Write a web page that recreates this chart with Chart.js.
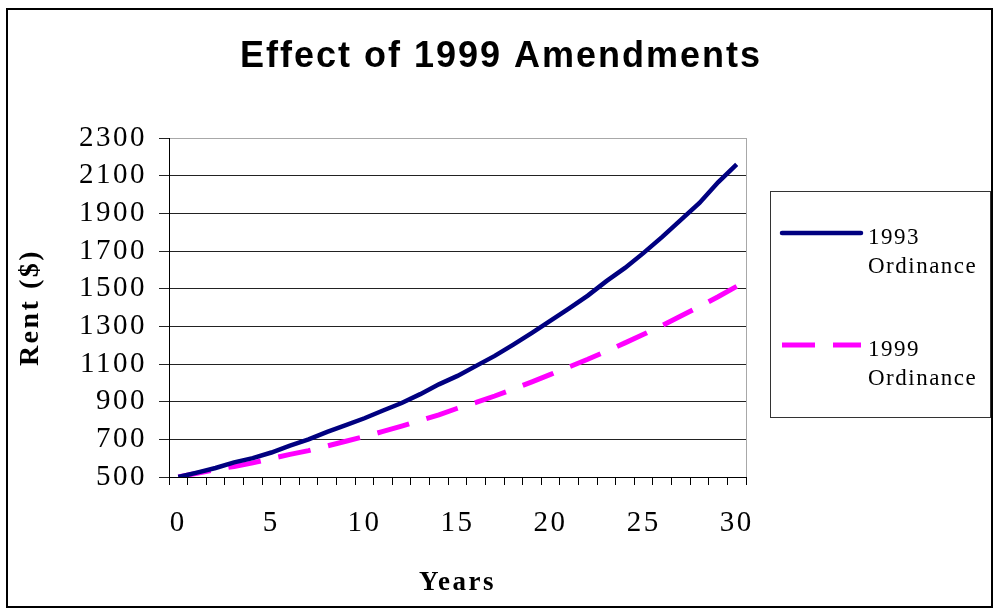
<!DOCTYPE html>
<html>
<head>
<meta charset="utf-8">
<script src="https://cdn.jsdelivr.net/npm/chart.js@4.4.1/dist/chart.umd.min.js"></script>
<style>
    html, body { margin: 0; padding: 0; background: #fff; }
    #wrap { width: 995px; height: 613px; }
</style>
</head>
<body>
<div id="wrap"><canvas id="chart"></canvas></div>
<script>
// data
const years = [0, 1, 2, 3, 4, 5, 6, 7, 8, 9, 10, 11, 12, 13, 14, 15, 16, 17, 18, 19, 20, 21, 22, 23, 24, 25, 26, 27, 28, 29, 30];
const rent1993 = [500, 523, 548, 578, 600, 630, 667, 700, 740, 775, 812, 853, 893, 940, 992, 1037, 1090, 1143, 1203, 1265, 1330, 1395, 1463, 1540, 1610, 1690, 1775, 1865, 1955, 2065, 2160];
const rent1999 = [500, 520, 540, 556, 575, 598, 620, 640, 665, 690, 715, 742, 770, 800, 830, 865, 896, 930, 967, 1005, 1045, 1085, 1125, 1168, 1212, 1258, 1305, 1355, 1405, 1457, 1512];
const yTicks = [500, 700, 900, 1100, 1300, 1500, 1700, 1900, 2100, 2300];
const xLabelEvery = 5;

const seriesNames = [['1993', 'Ordinance'], ['1999', 'Ordinance']];
const titleText = 'Effect of 1999 Amendments';

const serif = '"Liberation Serif", "Times New Roman", serif';
const sans = '"Liberation Sans", Arial, sans-serif';

// frame, title and legend //
const decor = {
    id: 'decor',
    beforeDraw(chart) {
        const ctx = chart.ctx;
        ctx.save();
        ctx.fillStyle = '#fff';
        ctx.fillRect(0, 0, chart.width, chart.height);
        ctx.restore();
        ctx.letterSpacing = '2.5px';
    },
    beforeDatasetsDraw(chart) {
        const { ctx, chartArea: a } = chart;
        ctx.save();
        ctx.strokeStyle = '#a8a8a8';
        ctx.lineWidth = 1;
        ctx.beginPath();
        ctx.moveTo(Math.round(a.right) + 0.5, a.top);
        ctx.lineTo(Math.round(a.right) + 0.5, a.bottom);
        ctx.stroke();
        ctx.restore();
    },
    afterDraw(chart) {
        const ctx = chart.ctx;
        ctx.save();

        // outer frame
        ctx.strokeStyle = '#000';
        ctx.lineWidth = 2;
        ctx.strokeRect(7, 9, 985, 598);

        // title
        ctx.fillStyle = '#000';
        ctx.font = 'bold 36px ' + sans;
        ctx.letterSpacing = '2px';
        ctx.textAlign = 'center';
        ctx.textBaseline = 'alphabetic';
        ctx.fillText(titleText, 501, 67);

        // legend box
        ctx.strokeStyle = '#333';
        ctx.lineWidth = 1;
        ctx.strokeRect(770.5, 191.5, 220, 226);

        const rows = [233, 345];
        ctx.font = '23px ' + serif;
        ctx.letterSpacing = '1.5px';
        ctx.textAlign = 'left';
        chart.data.datasets.forEach((ds, i) => {
            const y = rows[i];
            ctx.save();
            ctx.strokeStyle = ds.borderColor;
            ctx.lineWidth = ds.borderWidth;
            ctx.lineCap = i === 0 ? 'round' : 'butt';
            ctx.setLineDash(ds.borderDash || []);
            ctx.beginPath();
            ctx.moveTo(782, y);
            ctx.lineTo(861, y);
            ctx.stroke();
            ctx.restore();
            ctx.fillText(seriesNames[i][0], 868, y + 11);
            ctx.fillText(seriesNames[i][1], 868, y + 40);
        });
        ctx.restore();
    }
};

const chart = document.querySelector('#chart').getContext('2d');

new Chart(chart, {
    type: 'line',
    data: {
        labels: years,
        datasets: [
            {
                label: '1993 Ordinance',
                data: rent1993,
                borderColor: '#000080',
                borderWidth: 4.5,
                pointRadius: 0,
                tension: 0
            },
            {
                label: '1999 Ordinance',
                data: rent1999,
                borderColor: '#ff00ff',
                borderWidth: 5,
                borderDash: [33, 18],
                pointRadius: 0,
                tension: 0
            }
        ]
    },
    options: {
        responsive: true,
        maintainAspectRatio: false,
        animation: false,
        devicePixelRatio: 1,
        layout: { padding: { top: 138, right: 249, bottom: 14, left: 7 } },
        plugins: {
            legend: { display: false },
            title: { display: false },
            tooltip: { enabled: false }
        },
        scales: {
            x: {
                type: 'category',
                offset: true,
                grid: {
                    offset: true,
                    drawOnChartArea: false,
                    tickLength: 8,
                    tickColor: '#000',
                    lineWidth: 1
                },
                border: { color: '#000', width: 1 },
                ticks: {
                    autoSkip: false,
                    maxRotation: 0,
                    padding: 21,
                    color: '#000',
                    font: { family: serif, size: 29 },
                    callback: function (value, index) {
                        const v = years[index];
                        return v % xLabelEvery === 0 ? String(v) : '';
                    }
                },
                title: {
                    display: true,
                    text: 'Years',
                    color: '#000',
                    font: { family: serif, size: 27, weight: 'bold' },
                    padding: { top: 0, bottom: 0 }
                },
                afterFit: (scale) => { scale.height = 122; }
            },
            y: {
                min: yTicks[0],
                max: yTicks[yTicks.length - 1],
                afterBuildTicks: (scale) => { scale.ticks = yTicks.map(v => ({ value: v })); },
                grid: {
                    color: (c) => c.index === yTicks.length - 1 ? '#a8a8a8' : '#222',
                    tickColor: '#222',
                    tickLength: 10,
                    lineWidth: 1
                },
                border: { color: '#000', width: 1 },
                ticks: {
                    autoSkip: false,
                    padding: 12,
                    color: '#000',
                    font: { family: serif, size: 29 },
                    callback: (value) => String(value)
                },
                title: {
                    display: true,
                    text: 'Rent ($)',
                    color: '#000',
                    font: { family: serif, size: 28, weight: 'bold' },
                    padding: { top: 7, bottom: 0 }
                },
                afterFit: (scale) => { scale.width = 162; }
            }
        }
    },
    plugins: [decor]
})
</script>
</body>
</html>
